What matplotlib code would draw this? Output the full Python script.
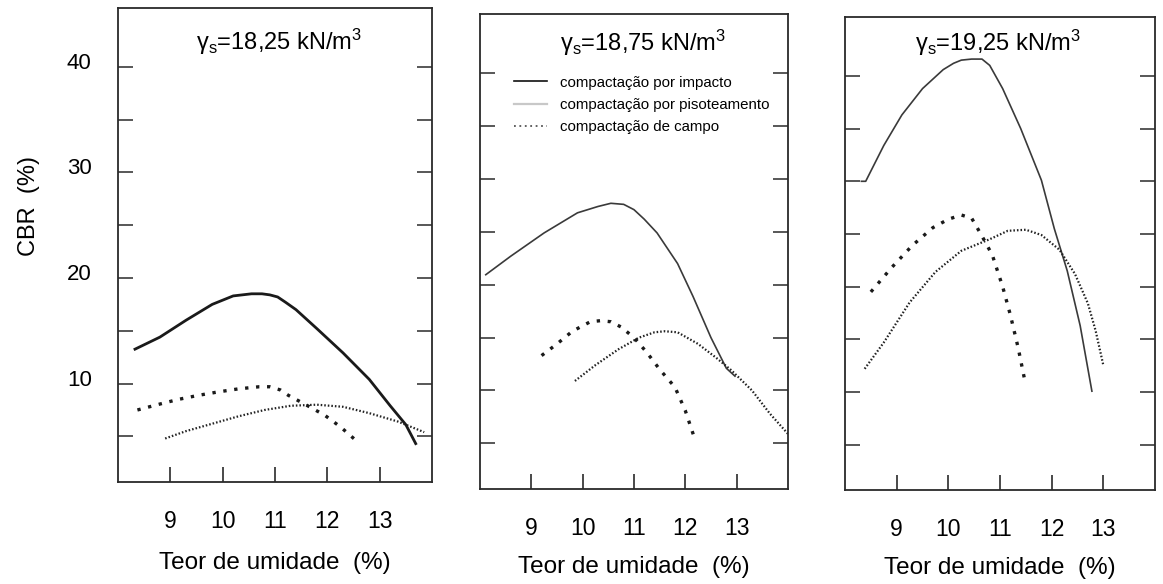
import matplotlib.pyplot as plt
from matplotlib.lines import Line2D
from matplotlib.transforms import ScaledTranslation

plt.rcParams['font.family'] = ['Liberation Sans', 'DejaVu Sans']
plt.rcParams['mathtext.fontset'] = 'custom'
plt.rcParams['mathtext.rm'] = 'Liberation Sans'
plt.rcParams['mathtext.default'] = 'regular'

# CBR (%) x teor de umidade (%) for three dry unit weights
titles = ["γ$_s$=18,25 kN/m$^3$", "γ$_s$=18,75 kN/m$^3$", "γ$_s$=19,25 kN/m$^3$"]

# compactacao por impacto
x1_imp = [8.3, 8.8, 9.3, 9.8, 10.2, 10.55, 10.75, 10.9, 11.05, 11.2, 11.4, 11.8, 12.3, 12.8, 13.2, 13.5, 13.7]
y1_imp = [13.2, 14.4, 16.0, 17.5, 18.3, 18.5, 18.5, 18.4, 18.2, 17.7, 17.0, 15.2, 12.9, 10.4, 7.9, 6.1, 4.2]
x2_imp = [8.1, 8.6, 9.25, 9.9, 10.3, 10.55, 10.8, 11.0, 11.2, 11.45, 11.85, 12.15, 12.5, 12.8, 12.98]
y2_imp = [20.9, 22.7, 24.9, 26.8, 27.4, 27.7, 27.6, 27.1, 26.2, 24.9, 22.0, 18.9, 15.0, 12.1, 11.3]
x3_imp = [8.3, 8.4, 8.75, 9.1, 9.5, 9.9, 10.1, 10.25, 10.45, 10.65, 10.8, 11.05, 11.4, 11.8, 12.05, 12.3, 12.55, 12.78]
y3_imp = [30.0, 30.0, 33.4, 36.3, 38.8, 40.6, 41.2, 41.5, 41.6, 41.6, 41.0, 38.8, 35.0, 30.1, 25.5, 21.5, 16.3, 10.0]

# compactacao por pisoteamento
x1_pis = [8.9, 9.3, 9.8, 10.3, 10.8, 11.3, 11.8, 12.3, 12.8, 13.35, 13.85]
y1_pis = [4.8, 5.5, 6.2, 6.9, 7.5, 7.9, 8.0, 7.8, 7.2, 6.4, 5.4]
x2_pis = [9.85, 10.25, 10.7, 11.1, 11.4, 11.6, 11.85, 12.25, 12.6, 12.9, 13.3, 13.65, 14.0]
y2_pis = [10.9, 12.4, 13.9, 15.0, 15.5, 15.6, 15.5, 14.4, 13.1, 11.9, 10.0, 7.8, 5.9]
x3_pis = [8.38, 8.75, 9.25, 9.75, 10.25, 10.8, 11.15, 11.5, 11.8, 12.15, 12.45, 12.7, 12.85, 13.0]
y3_pis = [12.2, 14.7, 18.5, 21.4, 23.4, 24.5, 25.3, 25.4, 24.9, 23.5, 21.2, 18.4, 15.8, 12.5]

# compactacao de campo
x1_cam = [8.37, 8.75, 9.15, 9.55, 9.9, 10.3, 10.7, 10.9, 11.1, 11.25, 11.55, 11.95, 12.25, 12.55]
y1_cam = [7.5, 8.0, 8.5, 8.9, 9.2, 9.5, 9.7, 9.7, 9.4, 8.9, 8.1, 7.0, 5.9, 4.6]
x2_cam = [9.2, 9.5, 9.8, 10.15, 10.35, 10.55, 10.75, 11.0, 11.25, 11.5, 11.8, 12.0, 12.2]
y2_cam = [13.3, 14.4, 15.6, 16.5, 16.6, 16.5, 16.0, 15.0, 13.6, 12.0, 10.3, 8.1, 5.2]
x3_cam = [8.5, 8.9, 9.3, 9.7, 10.0, 10.25, 10.45, 10.65, 10.85, 11.05, 11.2, 11.35, 11.47]
y3_cam = [19.5, 21.8, 23.9, 25.6, 26.4, 26.8, 26.5, 24.8, 23.0, 20.0, 17.3, 14.2, 11.3]

xticks = [9, 10, 11, 12, 13]
yticks = [5, 10, 15, 20, 25, 30, 35, 40]
ylabels = ['', '10', '', '20', '', '30', '', '40']

imp = [(x1_imp, y1_imp), (x2_imp, y2_imp), (x3_imp, y3_imp)]
pis = [(x1_pis, y1_pis), (x2_pis, y2_pis), (x3_pis, y3_pis)]
cam = [(x1_cam, y1_cam), (x2_cam, y2_cam), (x3_cam, y3_cam)]

# axes boxes [left, bottom, width, height]
boxes = [[0.1015, 0.175, 0.270, 0.812],
         [0.4127, 0.163, 0.2648, 0.813],
         [0.7266, 0.161, 0.2666, 0.810]]
title_pos = [(0.513, 0.928), (0.53, 0.939), (0.494, 0.945)]
xlab_pad = [14, 12, 12]
imp_lw = [2.0, 1.2, 1.2]
imp_col = ['#1a1a1a', '#3a3a3a', '#3a3a3a']

fig = plt.figure(figsize=(11.63, 5.84), dpi=100)
ink = '#2a2a2a'

for i in range(3):
    ax = fig.add_axes(boxes[i])
    ax.plot(imp[i][0], imp[i][1], color=imp_col[i], lw=imp_lw[i], solid_capstyle='butt')
    ax.plot(pis[i][0], pis[i][1], color='#222222', lw=1.6, linestyle=(0, (0.7, 0.9)))
    ax.plot(cam[i][0], cam[i][1], color='#1a1a1a', lw=2.4, linestyle=(0, (1, 2.3)))

    ax.set_xlim(8, 14)
    ax.set_ylim(0.7, 45.6)
    ax.set_xticks(xticks)
    ax.set_yticks(yticks)
    ax.set_xticklabels([str(t) for t in xticks], fontsize=16.5)
    ax.tick_params(axis='x', direction='in', length=11, width=1.2, color=ink, pad=20)
    ax.tick_params(axis='y', direction='in', length=11, width=1.1, color=ink, pad=19,
                   right=True, labelright=False)
    if i == 0:
        ax.set_yticklabels(ylabels, fontsize=16)
        # numbers sit a little above their ticks
        lift = ScaledTranslation(0, 0.06, fig.dpi_scale_trans)
        for lab in ax.get_yticklabels():
            lab.set_transform(lab.get_transform() + lift)
        ax.set_ylabel("CBR  (%)", fontsize=17)
        ax.yaxis.set_label_coords(-0.25, 0.582)
    else:
        ax.set_yticklabels([])
    for s in ax.spines.values():
        s.set_color(ink)
        s.set_linewidth(1.3)
    ax.set_xlabel("Teor de umidade  (%)", fontsize=17.5, labelpad=xlab_pad[i])
    ax.text(title_pos[i][0], title_pos[i][1], titles[i], transform=ax.transAxes,
            ha='center', va='center', fontsize=17)

    if i == 1:
        handles = [Line2D([], [], color='#111111', lw=1.2),
                   Line2D([], [], color='#c8c8c8', lw=1.6),
                   Line2D([], [], color='#555555', lw=1.3, linestyle=(0, (1, 2)))]
        names = ["compactação por impacto", "compactação por pisoteamento",
                 "compactação de campo"]
        ax.legend(handles, names, loc='upper left', bbox_to_anchor=(0.11, 0.87),
                  frameon=False, fontsize=10.8, handlelength=2.2, handletextpad=0.9,
                  labelspacing=0.55, borderpad=0, borderaxespad=0)

plt.savefig("out.png", dpi=100)
